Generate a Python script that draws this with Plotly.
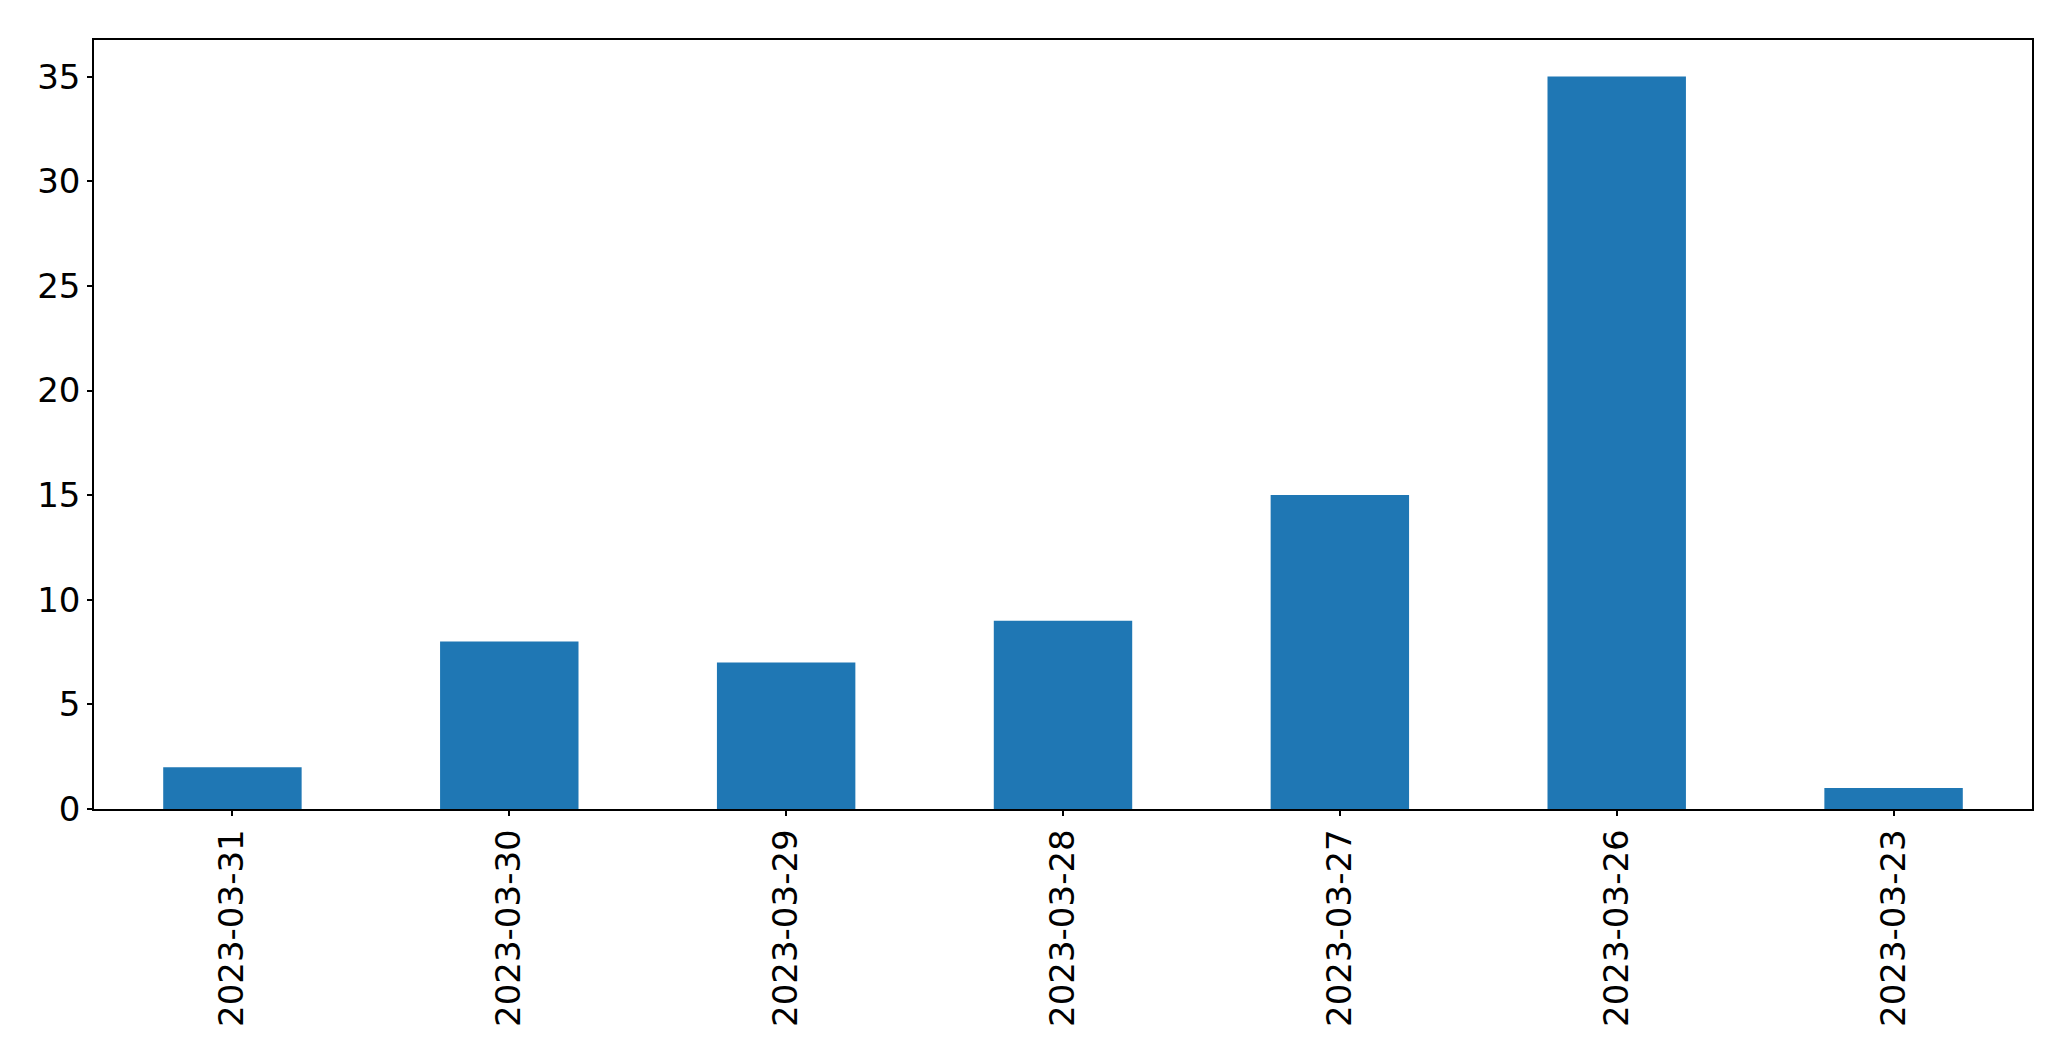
import plotly.graph_objects as go

dates = ["2023-03-31", "2023-03-30", "2023-03-29", "2023-03-28", "2023-03-27", "2023-03-26", "2023-03-23"]
counts = [2, 8, 7, 9, 15, 35, 1]

fig = go.Figure(go.Bar(x=dates, y=counts, width=0.5, marker=dict(color="#1f77b4", line=dict(width=0))))

fig.update_layout(
    width=2071, height=1061,
    margin=dict(l=94, r=39, t=40, b=252),
    paper_bgcolor="white", plot_bgcolor="white",
    font=dict(family="DejaVu Sans", size=34, color="black"),
    showlegend=False,
)
fig.update_xaxes(
    type="category", range=[-0.5, 6.5], tickangle=-90,
    showline=True, linecolor="black", linewidth=1.5, mirror=True,
    ticks="outside", ticklen=5, tickwidth=1.5, tickcolor="black",
    showgrid=False, zeroline=False,
)
fig.update_yaxes(
    range=[0, 36.75], tickvals=[0, 5, 10, 15, 20, 25, 30, 35],
    showline=True, linecolor="black", linewidth=1.5, mirror=True,
    ticks="outside", ticklen=5, tickwidth=1.5, tickcolor="black",
    showgrid=False, zeroline=False,
)

fig.write_html("out.html", config={"displayModeBar": False},
               post_script="document.body.style.margin='0';")
